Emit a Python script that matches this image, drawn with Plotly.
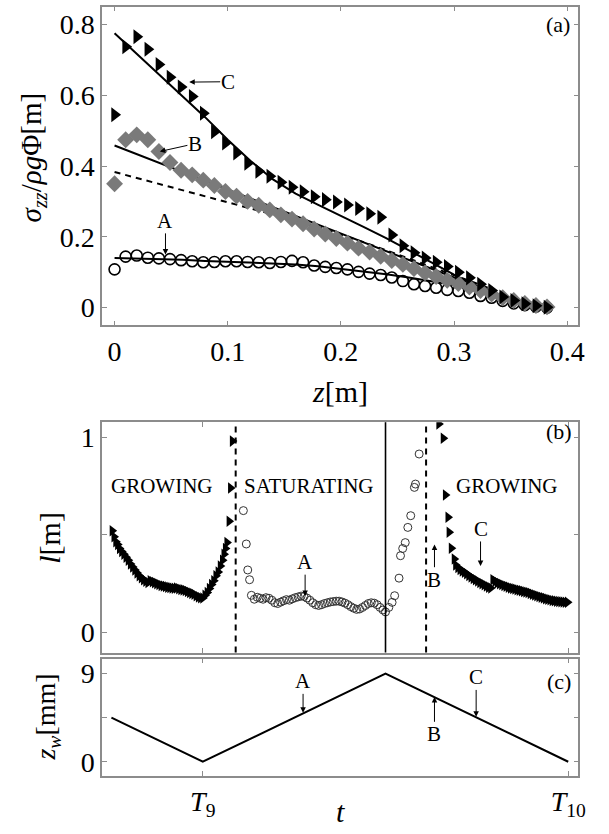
import plotly.graph_objects as go

# ---------------- panel (a): vertical stress profiles ----------------
z = [0.000, 0.0098, 0.0196, 0.0294, 0.0392, 0.049, 0.0588, 0.0686, 0.0784, 0.0882,
     0.098, 0.1078, 0.1176, 0.1274, 0.1372, 0.147, 0.1568, 0.1666, 0.1764, 0.1862,
     0.196, 0.2058, 0.2156, 0.2254, 0.2352, 0.245, 0.2548, 0.2646, 0.2744, 0.2842,
     0.294, 0.3038, 0.3136, 0.3234, 0.3332, 0.343, 0.3528, 0.3626, 0.3724, 0.3822]

sigma_A = [0.108, 0.144, 0.147, 0.141, 0.139, 0.137, 0.134, 0.131, 0.128, 0.129,
           0.131, 0.131, 0.129, 0.128, 0.126, 0.129, 0.132, 0.128, 0.119, 0.115,
           0.112, 0.108, 0.101, 0.096, 0.092, 0.085, 0.075, 0.066, 0.061, 0.056,
           0.050, 0.047, 0.042, 0.033, 0.028, 0.019, 0.012, 0.007, 0.003, 0.000]

sigma_B = [0.350, 0.474, 0.488, 0.474, 0.441, 0.410, 0.388, 0.375, 0.360, 0.345,
           0.328, 0.315, 0.300, 0.289, 0.276, 0.262, 0.250, 0.237, 0.222, 0.208,
           0.195, 0.182, 0.168, 0.157, 0.145, 0.133, 0.122, 0.110, 0.098, 0.088,
           0.077, 0.068, 0.058, 0.048, 0.038, 0.028, 0.020, 0.012, 0.006, 0.002]

sigma_C = [0.545, 0.737, 0.765, 0.730, 0.687, 0.651, 0.623, 0.596, 0.549, 0.497,
           0.465, 0.437, 0.408, 0.385, 0.371, 0.354, 0.340, 0.327, 0.313, 0.305,
           0.298, 0.290, 0.280, 0.265, 0.255, 0.205, 0.175, 0.155, 0.140, 0.128,
           0.116, 0.100, 0.084, 0.066, 0.048, 0.030, 0.020, 0.011, 0.005, 0.001]

fit_z = [0.0, 0.02, 0.04, 0.06, 0.08, 0.10, 0.12, 0.14, 0.16, 0.18,
         0.20, 0.22, 0.24, 0.26, 0.28, 0.30, 0.32, 0.335]
fit_A = [0.140, 0.139, 0.137, 0.135, 0.132, 0.130, 0.128, 0.125, 0.122, 0.117,
         0.110, 0.102, 0.094, 0.085, 0.075, 0.064, 0.052, 0.043]
fit_B = [0.458, 0.433, 0.408, 0.383, 0.358, 0.333, 0.308, 0.283, 0.258, 0.233,
         0.208, 0.183, 0.158, 0.133, 0.109, 0.085, 0.062, 0.045]
fit_B_dashed = [0.383, 0.366, 0.349, 0.332, 0.315, 0.298, 0.281, 0.264, 0.246, 0.227,
                0.207, 0.185, 0.162, 0.139, 0.116, 0.093, 0.068, 0.050]
fit_C = [0.775, 0.716, 0.657, 0.598, 0.538, 0.474, 0.415, 0.362, 0.322, 0.290,
         0.260, 0.228, 0.196, 0.163, 0.128, 0.093, 0.060, 0.042]

# ---------------- panel (b): length scale l(t) ----------------
t_grow1 = [-0.248, -0.243, -0.238, -0.233, -0.228, -0.222, -0.216, -0.210, -0.204, -0.198,
           -0.192, -0.186, -0.180, -0.174, -0.168, -0.162, -0.156, -0.150, -0.144, -0.138,
           -0.132, -0.126, -0.120, -0.114, -0.108, -0.102, -0.096, -0.090, -0.084, -0.078,
           -0.072, -0.066, -0.060, -0.054, -0.048, -0.042, -0.036, -0.030, -0.024, -0.018,
           -0.012, -0.006, 0.000, 0.006, 0.012, 0.018, 0.024, 0.030, 0.036, 0.042,
           0.048, 0.054, 0.058, 0.062, 0.066, 0.072, 0.076, 0.081]
l_grow1 = [0.521, 0.490, 0.465, 0.450, 0.430, 0.415, 0.400, 0.385, 0.370, 0.350,
           0.335, 0.320, 0.305, 0.290, 0.280, 0.270, 0.262, 0.256, 0.265, 0.260,
           0.255, 0.250, 0.245, 0.240, 0.238, 0.235, 0.232, 0.230, 0.228, 0.226,
           0.228, 0.224, 0.220, 0.218, 0.215, 0.210, 0.205, 0.200, 0.195, 0.188,
           0.182, 0.178, 0.176, 0.190, 0.205, 0.225, 0.245, 0.265, 0.290, 0.310,
           0.340, 0.370, 0.400, 0.430, 0.460, 0.570, 0.740, 0.980]

t_sat = [0.111, 0.119, 0.123, 0.128, 0.133, 0.141, 0.149, 0.157, 0.165, 0.173,
         0.181, 0.189, 0.197, 0.205, 0.213, 0.221, 0.229, 0.237, 0.245, 0.253,
         0.261, 0.269, 0.277, 0.285, 0.293, 0.301, 0.309, 0.317, 0.325, 0.333,
         0.341, 0.349, 0.357, 0.365, 0.373, 0.381, 0.389, 0.397, 0.405, 0.413,
         0.421, 0.429, 0.437, 0.445, 0.453, 0.461, 0.469, 0.477, 0.485, 0.493,
         0.500, 0.509, 0.518, 0.525, 0.537, 0.541, 0.547, 0.554, 0.561, 0.569,
         0.579, 0.582, 0.592]
l_sat = [0.624, 0.453, 0.320, 0.270, 0.190, 0.170, 0.180, 0.175, 0.170, 0.178,
         0.175, 0.165, 0.152, 0.148, 0.155, 0.162, 0.168, 0.165, 0.172, 0.178,
         0.182, 0.186, 0.184, 0.176, 0.165, 0.152, 0.142, 0.138, 0.142, 0.148,
         0.152, 0.156, 0.158, 0.160, 0.160, 0.156, 0.150, 0.142, 0.132, 0.124,
         0.118, 0.120, 0.128, 0.138, 0.148, 0.152, 0.150, 0.142, 0.128, 0.115,
         0.105, 0.128, 0.154, 0.188, 0.278, 0.393, 0.430, 0.460, 0.538, 0.598,
         0.743, 0.760, 0.914]

t_grow2 = [0.646, 0.658, 0.664, 0.671, 0.674, 0.680, 0.688, 0.692, 0.698, 0.704,
           0.710, 0.716, 0.722, 0.728, 0.734, 0.740, 0.746, 0.752, 0.758, 0.764,
           0.770, 0.776, 0.782, 0.788, 0.794, 0.800, 0.806, 0.812, 0.818, 0.824,
           0.830, 0.836, 0.842, 0.848, 0.854, 0.860, 0.866, 0.872, 0.878, 0.884,
           0.890, 0.896, 0.902, 0.908, 0.914, 0.920, 0.926, 0.932, 0.938, 0.944,
           0.950, 0.956, 0.962, 0.968, 0.974, 0.980, 0.986, 0.992, 0.998]
l_grow2 = [1.068, 0.995, 0.704, 0.590, 0.513, 0.431, 0.376, 0.345, 0.333, 0.322,
           0.315, 0.308, 0.300, 0.292, 0.284, 0.276, 0.270, 0.263, 0.256, 0.250,
           0.244, 0.238, 0.232, 0.228, 0.270, 0.262, 0.255, 0.250, 0.245, 0.240,
           0.236, 0.232, 0.228, 0.225, 0.222, 0.219, 0.216, 0.213, 0.210, 0.207,
           0.204, 0.200, 0.196, 0.192, 0.188, 0.184, 0.180, 0.177, 0.173, 0.170,
           0.167, 0.164, 0.162, 0.160, 0.158, 0.157, 0.156, 0.155, 0.154]

# regime boundaries (dashed) and wall reversal (solid)
t_regime = [0.090, 0.611]
t_reversal = 0.500

# ---------------- panel (c): wall position ----------------
t_wall = [-0.25, 0.0, 0.5, 1.0]
zw_wall = [4.5, 0.0, 9.0, 0.0]

t_ticks = [0.0, 1.0]
t_ticktext = ["<i>T</i><sub>9</sub>", "<i>T</i><sub>10</sub>"]

FONT = "Liberation Serif"
AX_GRAY = "#8c8c8c"
W, H = 609, 834

XDOM = [103.3 / W, 585.2 / W]
def ydom(top_px, bottom_px):
    return [1 - bottom_px / H, 1 - top_px / H]

fig = go.Figure()

# panel (a)
for fit in (fit_C, fit_B, fit_A):
    fig.add_trace(go.Scatter(x=fit_z, y=fit, mode="lines", line=dict(color="black", width=2),
                             xaxis="x", yaxis="y", showlegend=False))
fig.add_trace(go.Scatter(x=fit_z, y=fit_B_dashed, mode="lines",
                         line=dict(color="black", width=2, dash="6px,5px"),
                         xaxis="x", yaxis="y", showlegend=False))
fig.add_trace(go.Scatter(x=z, y=sigma_A, mode="markers",
                         marker=dict(symbol="circle-open", size=11, color="black",
                                     line=dict(width=1.6, color="black")),
                         xaxis="x", yaxis="y", showlegend=False))
fig.add_trace(go.Scatter(x=z, y=sigma_B, mode="markers",
                         marker=dict(symbol="diamond", size=13, color="#7a7a7a", line=dict(width=0)),
                         xaxis="x", yaxis="y", showlegend=False))
fig.add_trace(go.Scatter(x=z, y=sigma_C, mode="markers",
                         marker=dict(symbol="triangle-right", size=13, color="black", line=dict(width=0)),
                         xaxis="x", yaxis="y", showlegend=False))

# panel (b)
fig.add_trace(go.Scatter(x=t_grow1, y=l_grow1, mode="markers",
                         marker=dict(symbol="triangle-right", size=10, color="black", line=dict(width=0)),
                         xaxis="x2", yaxis="y2", showlegend=False))
fig.add_trace(go.Scatter(x=t_sat, y=l_sat, mode="markers",
                         marker=dict(symbol="circle-open", size=8, color="#333333",
                                     line=dict(width=1, color="#333333")),
                         xaxis="x2", yaxis="y2", showlegend=False))
fig.add_trace(go.Scatter(x=t_grow2, y=l_grow2, mode="markers",
                         marker=dict(symbol="triangle-right", size=10, color="black", line=dict(width=0)),
                         xaxis="x2", yaxis="y2", showlegend=False))

# panel (c)
fig.add_trace(go.Scatter(x=t_wall, y=zw_wall, mode="lines", line=dict(color="black", width=2),
                         xaxis="x3", yaxis="y3", showlegend=False))

shapes = []
for tv in t_regime:
    shapes.append(dict(type="line", xref="x2", yref="y2 domain", x0=tv, x1=tv, y0=0, y1=1,
                       line=dict(color="black", width=2, dash="6px,5px")))
shapes.append(dict(type="line", xref="x2", yref="y2 domain", x0=t_reversal, x1=t_reversal,
                   y0=0, y1=1, line=dict(color="black", width=1.6)))

axis_common = dict(showline=True, linecolor=AX_GRAY, linewidth=1.5, mirror="allticks",
                   ticks="inside", ticklen=5, tickcolor=AX_GRAY, tickwidth=1,
                   showgrid=False, zeroline=False,
                   tickfont=dict(family=FONT, size=28, color="black"))
minor_common = dict(ticks="inside", ticklen=5, tickcolor=AX_GRAY, tickwidth=1, showgrid=False)

fig.update_layout(
    width=W, height=H, margin=dict(l=0, r=0, t=0, b=0),
    paper_bgcolor="white", plot_bgcolor="white",
    shapes=shapes,
    xaxis=dict(domain=XDOM, range=[-0.011, 0.41], anchor="y",
               tickvals=[0, 0.1, 0.2, 0.3, 0.4], ticktext=["0", "0.1", "0.2", "0.3", "0.4"],
               **axis_common),
    yaxis=dict(domain=ydom(6.7, 325.7), range=[-0.05, 0.85], anchor="x",
               tickvals=[0, 0.2, 0.4, 0.6, 0.8], ticktext=["0", "0.2", "0.4", "0.6", "0.8"],
               **axis_common),
    xaxis2=dict(domain=XDOM, range=[-0.2755, 1.028], anchor="y2",
                tickvals=t_ticks, showticklabels=False, **axis_common),
    yaxis2=dict(domain=ydom(422.7, 653.3), range=[-0.103, 1.077], anchor="x2",
                tickvals=[0, 1], ticktext=["0", "1"],
                minor=dict(tickvals=[0.5], **minor_common), **axis_common),
    xaxis3=dict(domain=XDOM, range=[-0.2755, 1.028], anchor="y3",
                tickvals=t_ticks, ticktext=t_ticktext, **axis_common),
    yaxis3=dict(domain=ydom(659.3, 777.0), range=[-1.46, 10.53], anchor="x3",
                tickvals=[0, 9], ticktext=["0", "9"],
                minor=dict(tickvals=[4.5], **minor_common), **axis_common),
)

ann = []
def label(text, x, y, xref, yref, size=21, **kw):
    ann.append(dict(text=text, x=x, y=y, xref=xref, yref=yref, showarrow=False,
                    xanchor="center", yanchor="middle",
                    font=dict(family=FONT, size=size, color="black"), **kw))

def pointer(text, x_tip, y_tip, x_text, y_text, xref, yref, size=21):
    # label placed at (x_text, y_text) with an arrow running to the marked point
    ann.append(dict(text=text, x=x_tip, y=y_tip, ax=x_text, ay=y_text, xref=xref, yref=yref,
                    axref=xref, ayref=yref, showarrow=True, arrowhead=2, arrowsize=1.1,
                    arrowwidth=1, arrowcolor="black", standoff=0, borderpad=0,
                    font=dict(family=FONT, size=size, color="black")))

# panel (a) labels
label("(a)", 0.392, 0.80, "x", "y", size=22)
pointer("C", 0.066, 0.637, 0.100, 0.638, "x", "y")
pointer("B", 0.040, 0.441, 0.071, 0.463, "x", "y")
pointer("A", 0.045, 0.150, 0.045, 0.245, "x", "y")

# panel (b) labels
label("(b)", 0.975, 1.03, "x2", "y2", size=22)
label("GROWING", -0.114, 0.752, "x2", "y2", size=21)
label("SATURATING", 0.29, 0.752, "x2", "y2", size=21)
label("GROWING", 0.83, 0.752, "x2", "y2", size=21)
pointer("A", 0.28, 0.186, 0.28, 0.36, "x2", "y2")
pointer("B", 0.634, 0.45, 0.634, 0.27, "x2", "y2")
pointer("C", 0.76, 0.34, 0.76, 0.53, "x2", "y2")

# panel (c) labels
label("(c)", 0.975, 8.2, "x3", "y3", size=22)
pointer("A", 0.2744, 5.0, 0.2744, 8.2, "x3", "y3")
pointer("B", 0.634, 6.6, 0.634, 2.8, "x3", "y3")
pointer("C", 0.748, 4.6, 0.748, 8.6, "x3", "y3")

# axis titles
label("<i>z</i>[m]", 0.5 * (XDOM[0] + XDOM[1]), 1 - 392 / H, "paper", "paper", size=30)
label("<i>σ</i><sub><i>zz</i></sub>/<i>ρg</i>Φ[m]", 33 / W, 1 - 158 / H, "paper", "paper",
      size=29, textangle=-90)
label("<i>l</i>[m]", 50 / W, 1 - 538 / H, "paper", "paper", size=30, textangle=-90)
label("<i>z</i><sub><i>w</i></sub>[mm]", 48 / W, 1 - 718 / H, "paper", "paper",
      size=28, textangle=-90)
label("<i>t</i>", 0.5 * (XDOM[0] + XDOM[1]), 1 - 812 / H, "paper", "paper", size=30)

fig.update_layout(annotations=ann)
fig.write_html("out.html")
